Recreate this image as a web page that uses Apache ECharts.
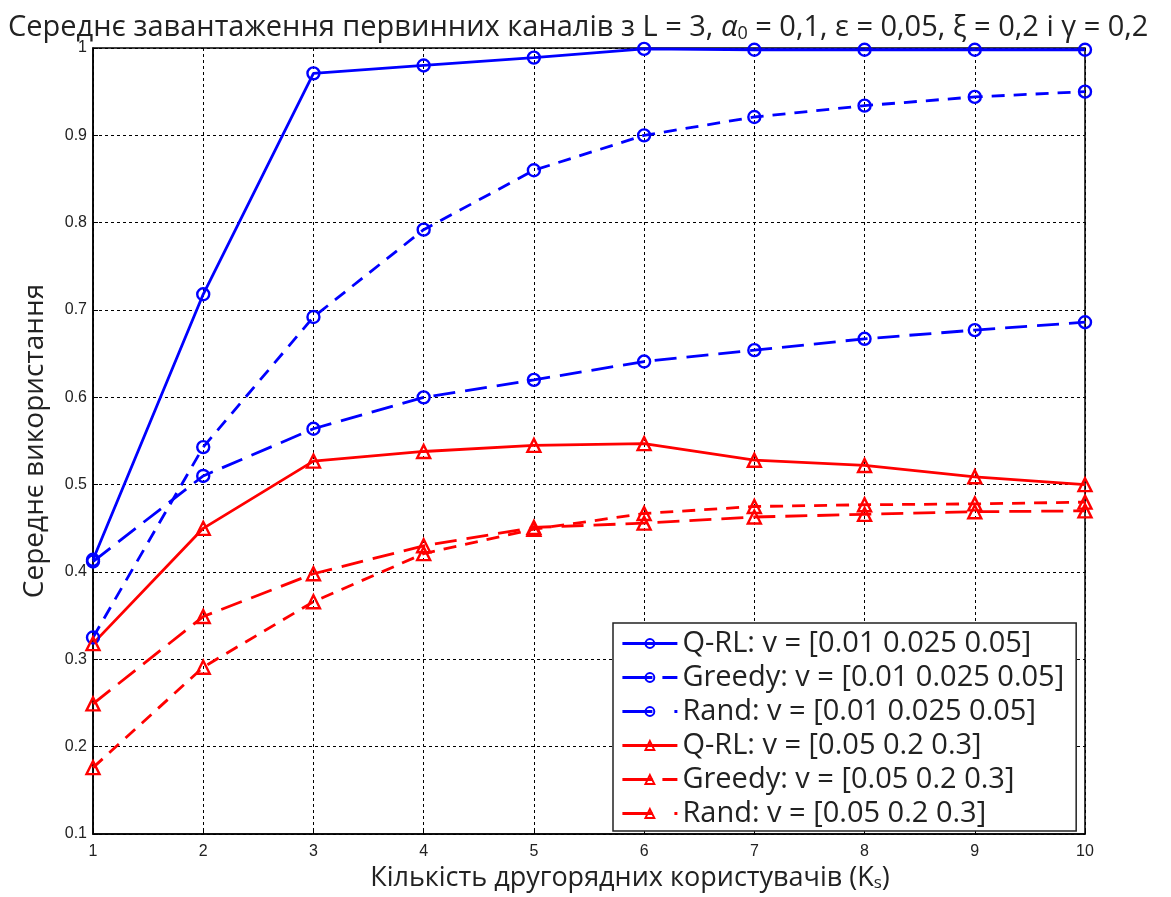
<!DOCTYPE html>
<html>
<head>
<meta charset="utf-8">
<script src="https://cdn.jsdelivr.net/npm/echarts@6/dist/echarts.min.js"></script>
<style>
  html, body { margin: 0; padding: 0; background: #fff; }
  #chart { width: 1171px; height: 897px; }
</style>
</head>
<body>
<div id="chart"></div>
<script>
var users = [1, 2, 3, 4, 5, 6, 7, 8, 9, 10];

var qrlBlue = [0.414, 0.718, 0.971, 0.980, 0.989, 0.999, 0.998, 0.998, 0.998, 0.998];
var greedyBlue = [0.412, 0.510, 0.564, 0.600, 0.620, 0.641, 0.654, 0.667, 0.677, 0.686];
var randBlue = [0.325, 0.543, 0.692, 0.792, 0.860, 0.900, 0.921, 0.934, 0.944, 0.950];

var qrlRed = [0.318, 0.450, 0.527, 0.538, 0.545, 0.547, 0.528, 0.522, 0.509, 0.500];
var greedyRed = [0.249, 0.349, 0.398, 0.430, 0.451, 0.456, 0.463, 0.466, 0.469, 0.470];
var randRed = [0.176, 0.291, 0.366, 0.421, 0.449, 0.467, 0.475, 0.477, 0.478, 0.480];

var names = [
    'Q-RL: v = [0.01 0.025 0.05]',
    'Greedy: v = [0.01 0.025 0.05]',
    'Rand: v = [0.01 0.025 0.05]',
    'Q-RL: v = [0.05 0.2 0.3]',
    'Greedy: v = [0.05 0.2 0.3]',
    'Rand: v = [0.05 0.2 0.3]'
];

function pairs(vals) {
    return users.map(function (x, i) { return [x, vals[i]]; });
}

function line(name, vals, color, dash, symbol, size) {
    return {
        name: name,
        type: 'line',
        data: pairs(vals),
        symbol: symbol,
        symbolSize: size,
        showSymbol: true,
        lineStyle: { color: color, width: 2.8, type: dash },
        itemStyle: { color: 'rgba(255,255,255,0)', borderColor: color, borderWidth: 2.4 },
        emphasis: { disabled: true },
        z: 3
    };
}

// legend icons: dash patterns like the original's sample lines
var legendDash = ['solid', [30, 10], [30, 22], 'solid', [30, 10], [30, 22]];

var font = '"Open Sans", "DejaVu Sans", sans-serif';
var tickFont = '"Liberation Sans", Arial, sans-serif';

var option = {
    backgroundColor: '#fff',
    animation: false,
    title: {
        text: 'Середнє завантаження первинних каналів з L = 3, {a|α}{s|0} = 0,1, ε = 0,05, ξ = 0,2 і γ = 0,2',
        left: 3,
        top: 8,
        textStyle: {
            color: '#222',
            fontFamily: font,
            fontSize: 29,
            fontWeight: 'normal',
            rich: {
                a: { fontFamily: font, fontSize: 29, fontStyle: 'italic', color: '#222' },
                s: { fontFamily: font, fontSize: 18, color: '#222', padding: [12, 0, 0, 0] }
            }
        }
    },
    legend: {
        orient: 'vertical',
        left: 613,
        top: 623,
        backgroundColor: '#fff',
        borderColor: '#222',
        borderWidth: 1.5,
        borderRadius: 0,
        padding: [6, 12, 3, 8],
        itemWidth: 55,
        itemHeight: 11,
        itemGap: 5,
        textStyle: { color: '#222', fontFamily: font, fontSize: 29, lineHeight: 29 },
        data: names.map(function (n, i) {
            return { name: n, lineStyle: { type: legendDash[i], width: 2.8 } };
        })
    },
    grid: {
        left: 93,
        right: 86,
        top: 48,
        bottom: 59,
        show: true,
        borderColor: '#000',
        borderWidth: 1.5
    },
    xAxis: {
        type: 'value',
        min: 1,
        max: 10,
        interval: 1,
        name: 'Кількість другорядних користувачів (K{s|s})',
        nameLocation: 'middle',
        nameGap: 31,
        nameTextStyle: {
            color: '#222',
            fontFamily: font,
            fontSize: 27,
            padding: [0, 0, 0, 82],
            rich: { s: { fontFamily: font, fontSize: 17, color: '#222', padding: [10, 0, 0, 0] } }
        },
        axisLine: { show: true, lineStyle: { color: '#000', width: 1.5 } },
        axisTick: { show: true, inside: true, length: 5, lineStyle: { color: '#000' } },
        axisLabel: { color: '#222', fontFamily: tickFont, fontSize: 16, margin: 10 },
        splitLine: { show: true, lineStyle: { color: '#000', width: 1, type: [3, 3] } }
    },
    yAxis: {
        type: 'value',
        min: 0.1,
        max: 1,
        interval: 0.1,
        name: 'Середнє використання',
        nameLocation: 'middle',
        nameGap: 44,
        nameTextStyle: { color: '#222', fontFamily: font, fontSize: 28 },
        axisLine: { show: true, lineStyle: { color: '#000', width: 1.5 } },
        axisTick: { show: true, inside: true, length: 5, lineStyle: { color: '#000' } },
        axisLabel: {
            color: '#222',
            fontFamily: tickFont,
            fontSize: 16,
            margin: 6,
            formatter: function (v) { return String(Math.round(v * 10) / 10); }
        },
        splitLine: { show: true, lineStyle: { color: '#000', width: 1, type: [3, 3] } }
    },
    series: [
        line(names[0], qrlBlue, '#0000ff', 'solid', 'circle', 12),
        line(names[1], greedyBlue, '#0000ff', [22, 10], 'circle', 12),
        line(names[2], randBlue, '#0000ff', [13, 9], 'circle', 12),
        line(names[3], qrlRed, '#ff0000', 'solid', 'triangle', 13),
        line(names[4], greedyRed, '#ff0000', [22, 10], 'triangle', 13),
        line(names[5], randRed, '#ff0000', [13, 9], 'triangle', 13)
    ]
};

var myChart = echarts.init(document.getElementById('chart'));
myChart.setOption(option);
</script>
</body>
</html>
